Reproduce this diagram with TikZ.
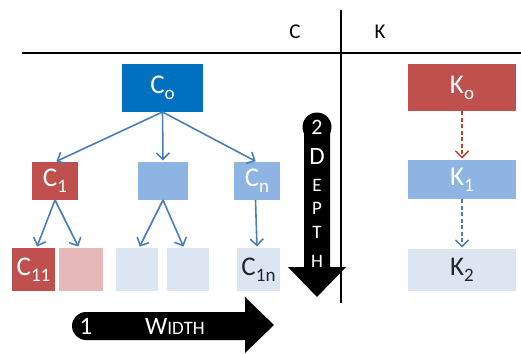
\documentclass[tikz,border=0pt]{standalone}
\usepackage{fontspec}
\setmainfont{Carlito}
\usetikzlibrary{arrows.meta}
\definecolor{cdark}{HTML}{0070C0}
\definecolor{cred}{HTML}{C0504D}
\definecolor{cmid}{HTML}{8EB4E3}
\definecolor{clight}{HTML}{DCE6F2}
\definecolor{cpink}{HTML}{E6B9B8}
\definecolor{carrow}{HTML}{4A7EBB}
\definecolor{cdash}{HTML}{B8422E}
\definecolor{ctext}{HTML}{262626}
\newcommand\lsub[1]{\raisebox{-0.22em}{\fontsize{19}{19}\selectfont #1}}
\tikzset{
  box/.style={inner sep=0pt, outer sep=0pt, font=\fontsize{27}{27}\selectfont, text=white},
  conn/.style={draw=carrow, line width=1.6pt, -{Straight Barb[length=6.5pt,width=13pt,line width=1.6pt]}, shorten >=1.5pt},
  dconn/.style={line width=1.5pt, dash pattern=on 4pt off 2.5pt, -{Straight Barb[length=6.5pt,width=13pt,line width=1.5pt]}, shorten >=1.5pt},
  bigarrow/.style={fill=black, draw=none},
  big/.style={text=white, inner sep=0pt, font=\fontsize{25}{25}\selectfont},
  small/.style={text=white, inner sep=0pt, font=\fontsize{19}{19}\selectfont},
  hdr/.style={inner sep=0pt, font=\fontsize{21}{21}\selectfont}
}
\begin{document}
\begin{tikzpicture}[x=1pt,y=-1pt]
\useasboundingbox (0,0) rectangle (521,353);
% header lines
\draw[line width=1.5pt] (22,53) -- (521,53);
\draw[line width=1.5pt] (341,10) -- (341,303);
\node[hdr] (hc) at (295,32) {C};
\node[hdr] (hk) at (380,32) {K};
% C tree
\node[box, fill=cdark, minimum width=81pt, minimum height=48pt] (c0) at (162.5,88) {C\lsub{o}};
\node[box, fill=cred, minimum width=46pt, minimum height=38pt] (c1) at (55,181) {C\lsub{1}};
\node[box, fill=cmid, minimum width=50pt, minimum height=38pt] (cm) at (163,181) {};
\node[box, fill=cmid, minimum width=46pt, minimum height=38pt] (cn) at (257,181) {C\lsub{n}};
\node[box, fill=cred, minimum width=43pt, minimum height=43pt] (c11) at (33.5,269.5) {C\lsub{11}};
\node[box, fill=cpink, minimum width=44pt, minimum height=43pt] (cp) at (81,269.5) {};
\node[box, fill=clight, minimum width=42pt, minimum height=43pt] (l1) at (137,269.5) {};
\node[box, fill=clight, minimum width=42pt, minimum height=43pt] (l2) at (188,269.5) {};
\node[box, fill=clight, text=ctext, minimum width=43pt, minimum height=43pt] (c1n) at (258.5,269.5) {C\lsub{1n}};
\draw[conn] (c0.south) -- (c1.north);
\draw[conn] (c0.south) -- (cm.north);
\draw[conn] (c0.south) -- (cn.north);
\draw[conn] (c1.south) -- ([xshift=3pt]c11.north);
\draw[conn] (c1.south) -- ([xshift=-2pt]cp.north);
\draw[conn] (cm.south) -- ([xshift=2pt]l1.north);
\draw[conn] (cm.south) -- ([xshift=-4pt]l2.north);
\draw[conn] ([xshift=-1.5pt]cn.south) -- ([xshift=-1.5pt]c1n.north);
% K column
\node[box, fill=cred, minimum width=108pt, minimum height=47pt] (k0) at (462,87.5) {K\lsub{o}};
\node[box, fill=cmid, minimum width=108pt, minimum height=39pt] (k1) at (462,179.5) {K\lsub{1}};
\node[box, fill=clight, text=ctext, minimum width=108pt, minimum height=42pt] (k2) at (462,270) {K\lsub{2}};
\draw[dconn, draw=cdash] (k0.south) -- (k1.north);
\draw[dconn, draw=carrow] (k1.south) -- (k2.north);
% DEPTH arrow
\fill[bigarrow] (317,127) circle[radius=14.5pt];
\fill[bigarrow] (304,127) -- (304,267) -- (288,267) -- (317,297) -- (346,267) -- (330,267) -- (330,127) -- cycle;
\node[big, font=\fontsize{22}{22}\selectfont] (d2) at (317,127) {2};
\node[big] (dD) at (317,156) {D};
\node[small] (dE) at (317,185) {E};
\node[small] (dP) at (317,208) {P};
\node[small] (dT) at (317,232) {T};
\node[small] (dH) at (317,261) {H};
% WIDTH arrow
\fill[bigarrow] (86,326) circle[radius=14pt];
\fill[bigarrow] (86,312) -- (245,312) -- (245,297) -- (274,325) -- (245,353) -- (245,340) -- (86,340) -- cycle;
\node[big] (w1) at (86,326) {1};
\node[big, anchor=base west] (wW) at (145,334) {W\fontsize{19}{19}\selectfont IDTH};
\end{tikzpicture}
\end{document}
